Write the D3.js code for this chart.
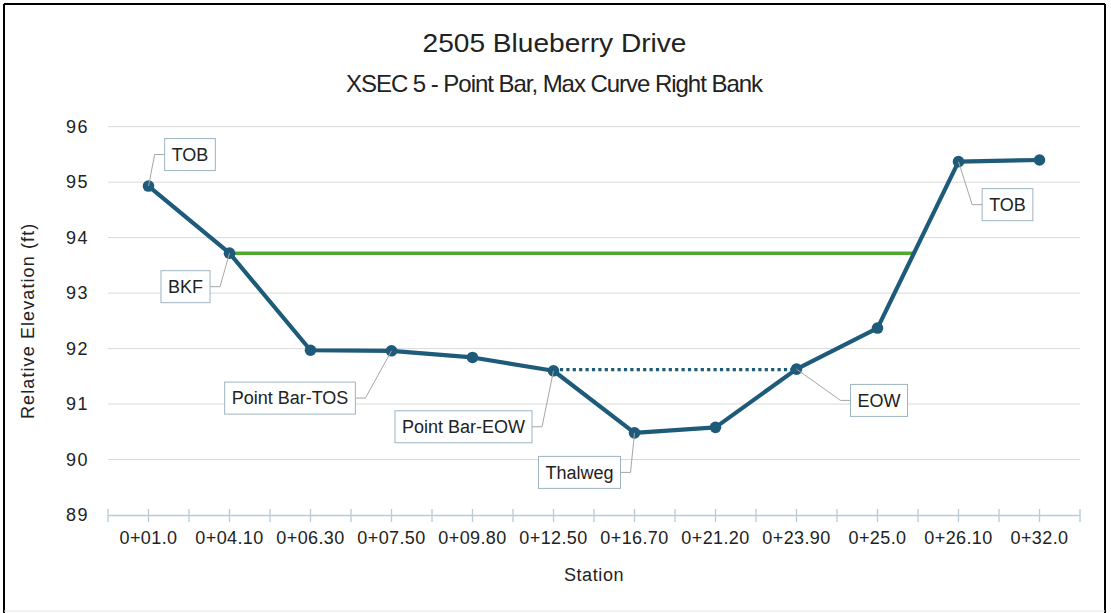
<!DOCTYPE html>
<html>
<head>
<meta charset="utf-8">
<script src="https://cdn.jsdelivr.net/npm/d3@7"></script>
<style>
  html, body { margin: 0; padding: 0; background: #fff; }
  svg { display: block; }
  text { font-family: "Liberation Sans", Arial, sans-serif; fill: #222; }
</style>
</head>
<body>
<svg id="chart" width="1111" height="613"></svg>
<script>
// ---- Data ----
const titleLines = ["2505 Blueberry Drive", "XSEC 5 - Point Bar, Max Curve Right Bank"];
const stations = ["0+01.0", "0+04.10", "0+06.30", "0+07.50", "0+09.80", "0+12.50",
                  "0+16.70", "0+21.20", "0+23.90", "0+25.0", "0+26.10", "0+32.0"];
const elevations = [94.93, 93.72, 91.97, 91.96, 91.84, 91.60, 90.48, 90.58, 91.63, 92.37, 95.37, 95.40];
const yTicks = [89, 90, 91, 92, 93, 94, 95, 96];
const bankfullElevation = 93.72;          // green BKF line
const bankfullStart = "0+04.10";
const waterSurfaceElevation = 91.62;      // dotted water surface line
const waterStart = "0+12.50";
const waterEnd = "0+23.90";
const calloutTexts = ["TOB", "BKF", "Point Bar-TOS", "Point Bar-EOW", "Thalweg", "EOW", "TOB"];
const calloutStations = ["0+01.0", "0+04.10", "0+07.50", "0+12.50", "0+16.70", "0+23.90", "0+26.10"];
const xTitle = "Station";
const yTitle = "Relative Elevation (ft)";

// ---- Layout ----
const svg = d3.select("#chart");
const plotLeft = 108, plotRight = 1080, plotTop = 126.7, plotBottom = 515;
const lineColor = "#1e5b7a";
const greenColor = "#4ea72e";

const x = d3.scaleBand().domain(stations).range([plotLeft, plotRight]).padding(0);
const xc = s => x(s) + x.bandwidth() / 2;
const y = d3.scaleLinear().domain([89, 96]).range([plotBottom, plotTop]);

// frame
svg.append("line").attr("x1", 4).attr("y1", 4).attr("x2", 1105).attr("y2", 4).attr("stroke", "#000").attr("stroke-width", 2);
svg.append("line").attr("x1", 4).attr("y1", 4).attr("x2", 4).attr("y2", 613).attr("stroke", "#000").attr("stroke-width", 2);
svg.append("line").attr("x1", 1105).attr("y1", 4).attr("x2", 1105).attr("y2", 613).attr("stroke", "#000").attr("stroke-width", 2);
svg.append("line").attr("x1", 4).attr("y1", 611).attr("x2", 1105).attr("y2", 611).attr("stroke", "#e4e4e4").attr("stroke-width", 1);

// title
const titleStyle = [
  { size: 25, width: 264, adjust: "spacingAndGlyphs" },
  { size: 24, width: 417, adjust: "spacing" }
];
titleLines.forEach((t, i) => {
  svg.append("text")
    .attr("x", 554.5).attr("y", 52 + i * 40)
    .attr("text-anchor", "middle")
    .attr("font-size", titleStyle[i].size)
    .attr("textLength", titleStyle[i].width)
    .attr("lengthAdjust", titleStyle[i].adjust)
    .text(t);
});

// gridlines
svg.append("g").selectAll("line")
  .data(yTicks.filter(v => v !== 89))
  .join("line")
  .attr("x1", plotLeft).attr("x2", plotRight)
  .attr("y1", d => y(d)).attr("y2", d => y(d))
  .attr("stroke", "#d9d9d9").attr("stroke-width", 1);

// y axis labels
const yAxis = d3.axisLeft(y).tickValues(yTicks).tickSize(0).tickPadding(19).tickFormat(d3.format("d"));
const gy = svg.append("g").attr("transform", `translate(${plotLeft},0)`).call(yAxis);
gy.select(".domain").remove();
gy.selectAll("text").attr("font-size", 18).attr("fill", "#333").attr("letter-spacing", 1.5)
  .style("font-family", "'Liberation Sans', Arial, sans-serif");

// x axis
const xAxis = d3.axisBottom(x).tickSize(0).tickPadding(20);
const gx = svg.append("g").attr("transform", `translate(0,${plotBottom})`).call(xAxis);
gx.select(".domain").attr("stroke", "#b9cbd6").attr("stroke-width", 1.5);
gx.selectAll("text").attr("font-size", 18).attr("fill", "#333").attr("dy", "0.5em")
  .attr("letter-spacing", 0.4)
  .style("font-family", "'Liberation Sans', Arial, sans-serif");
// tick marks at band boundaries and centers
const tickPos = [];
stations.forEach(s => { tickPos.push(x(s)); tickPos.push(xc(s)); });
tickPos.push(plotRight);
svg.append("g").selectAll("line").data(tickPos).join("line")
  .attr("x1", d => d).attr("x2", d => d)
  .attr("y1", plotBottom - 6).attr("y2", plotBottom + 7)
  .attr("stroke", "#b9cbd6").attr("stroke-width", 1.3);

// axis titles
svg.append("text").attr("x", 594).attr("y", 581).attr("text-anchor", "middle")
  .attr("font-size", 18).attr("letter-spacing", 0.6).text(xTitle);
svg.append("text").attr("transform", `translate(34,${(plotTop + plotBottom) / 2}) rotate(-90)`)
  .attr("text-anchor", "middle").attr("font-size", 18).attr("letter-spacing", 1.1).text(yTitle);

// bankfull line
const i1 = stations.indexOf(bankfullStart);
let bkfEndX = xc(stations[stations.length - 1]);
for (let i = stations.length - 2; i > i1; i--) {
  const a = elevations[i], b = elevations[i + 1];
  if ((a - bankfullElevation) * (b - bankfullElevation) <= 0 && a !== b) {
    const t = (bankfullElevation - a) / (b - a);
    bkfEndX = xc(stations[i]) + t * (xc(stations[i + 1]) - xc(stations[i]));
    break;
  }
}
svg.append("line")
  .attr("x1", xc(bankfullStart)).attr("x2", bkfEndX)
  .attr("y1", y(bankfullElevation)).attr("y2", y(bankfullElevation))
  .attr("stroke", greenColor).attr("stroke-width", 3.5);

// water surface dotted line
svg.append("line")
  .attr("x1", xc(waterStart)).attr("x2", xc(waterEnd))
  .attr("y1", y(waterSurfaceElevation)).attr("y2", y(waterSurfaceElevation))
  .attr("stroke", lineColor).attr("stroke-width", 3.2).attr("stroke-dasharray", "3.2,3.2");

// profile line
const pts = stations.map((s, i) => [xc(s), y(elevations[i])]);
svg.append("path").attr("d", d3.line()(pts))
  .attr("fill", "none").attr("stroke", lineColor).attr("stroke-width", 4.2).attr("stroke-linejoin", "round");
svg.append("g").selectAll("circle").data(pts).join("circle")
  .attr("cx", d => d[0]).attr("cy", d => d[1]).attr("r", 5.8).attr("fill", lineColor);

// callouts: box center offset from point, leader side
const calloutLayout = [
  { dx: 41.5, dy: -31.5, side: "left" },
  { dx: -44, dy: 33.5, side: "right" },
  { dx: -101.5, dy: 47.3, side: "right" },
  { dx: -90, dy: 56, side: "right" },
  { dx: -55, dy: 39.5, side: "right" },
  { dx: 82.5, dy: 31.3, side: "left" },
  { dx: 49, dy: 43, side: "left" }
];
const boxH = 32, padX = 7, elbow = 10;
calloutTexts.forEach((t, k) => {
  const s = calloutStations[k];
  const px = xc(s), py = y(elevations[stations.indexOf(s)]);
  const L = calloutLayout[k];
  const g = svg.append("g");
  const txt = g.append("text").attr("font-size", 18).attr("text-anchor", "middle")
    .attr("x", px + L.dx).attr("y", py + L.dy).attr("dy", "0.35em").text(t);
  const w = txt.node().getComputedTextLength() + padX * 2;
  const bx = px + L.dx - w / 2, by = py + L.dy - boxH / 2;
  const sideX = L.side === "left" ? bx : bx + w;
  const elbowX = L.side === "left" ? sideX - elbow : sideX + elbow;
  g.insert("path", "text")
    .attr("d", `M${px},${py}L${elbowX},${py + L.dy}L${sideX},${py + L.dy}`)
    .attr("fill", "none").attr("stroke", "#a6a6a6").attr("stroke-width", 1);
  g.insert("rect", "text")
    .attr("x", bx).attr("y", by).attr("width", w).attr("height", boxH)
    .attr("fill", "#fff").attr("stroke", "#9db4c2").attr("stroke-width", 1);
});
</script>
</body>
</html>
